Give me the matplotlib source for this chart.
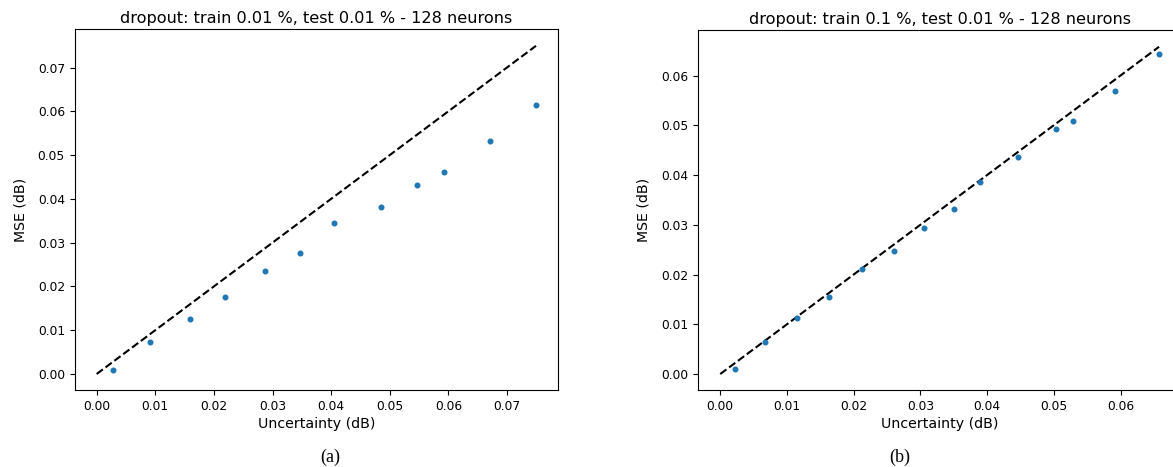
import matplotlib
matplotlib.use("Agg")
import matplotlib.pyplot as plt

# Panel (a): dropout train 0.01 %, test 0.01 %
unc_a = [0.00285, 0.00905, 0.01588, 0.02197, 0.0288, 0.03472, 0.04052,
         0.04855, 0.05458, 0.0593, 0.0671, 0.07496]
mse_a = [0.00091, 0.00731, 0.01249, 0.01767, 0.02361, 0.02757, 0.03458,
         0.03808, 0.04311, 0.04608, 0.05316, 0.06139]

# Panel (b): dropout train 0.1 %, test 0.01 %
unc_b = [0.0022, 0.00674, 0.01149, 0.01628, 0.02123, 0.02602, 0.03057,
         0.03511, 0.03891, 0.04456, 0.0503, 0.0529, 0.05924, 0.06578]
mse_b = [0.00107, 0.00643, 0.01126, 0.01555, 0.02111, 0.02473, 0.02929,
         0.03318, 0.03861, 0.04357, 0.0492, 0.0508, 0.05684, 0.06441]

titles = ["dropout: train 0.01 %, test 0.01 % - 128 neurons",
          "dropout: train 0.1 %, test 0.01 % - 128 neurons"]
captions = ["(a)", "(b)"]

fig = plt.figure(figsize=(11.73, 4.67), dpi=100)
ax1 = fig.add_axes([74.7 / 1173, 1 - 390.4 / 467, 483.3 / 1173, 361.0 / 467])
ax2 = fig.add_axes([698.3 / 1173, 1 - 390.4 / 467, 482.7 / 1173, 360.0 / 467])

for ax, u, m, t in [(ax1, unc_a, mse_a, titles[0]), (ax2, unc_b, mse_b, titles[1])]:
    mx = max(u)
    ax.plot([0, mx], [0, mx], "k--", linewidth=1.5)
    ax.scatter(u, m, s=11, color="#1f77b4", zorder=3)
    ax.set_title(t, fontsize=11.6, pad=4.5)
    ax.set_xlabel("Uncertainty (dB)", fontsize=10.2, labelpad=3)
    ax.set_ylabel("MSE (dB)", fontsize=10.2, labelpad=7.5)
    ax.tick_params(labelsize=8.8)
    ax.xaxis.set_major_locator(matplotlib.ticker.MultipleLocator(0.01))
    ax.yaxis.set_major_locator(matplotlib.ticker.MultipleLocator(0.01))
    ax.xaxis.set_major_formatter(matplotlib.ticker.FormatStrFormatter("%.2f"))
    ax.yaxis.set_major_formatter(matplotlib.ticker.FormatStrFormatter("%.2f"))
    ax.margins(0.05)

fig.text(330 / 1173, 1 - 457 / 467, captions[0], ha="center", va="center",
         fontsize=13, family="Liberation Serif")
fig.text(900 / 1173, 1 - 457 / 467, captions[1], ha="center", va="center",
         fontsize=13, family="Liberation Serif")

fig.savefig("out.png", dpi=100)
